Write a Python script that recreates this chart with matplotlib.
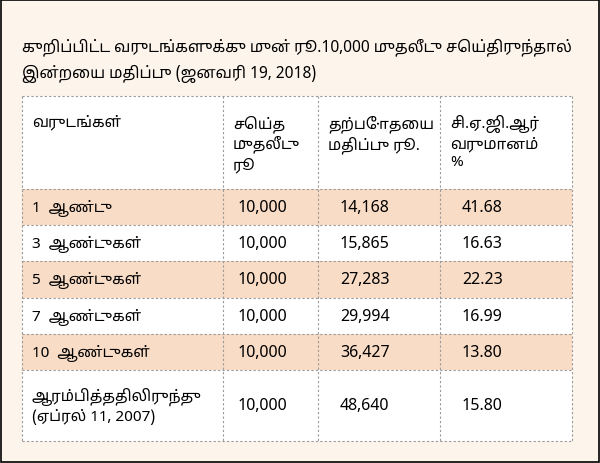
import matplotlib
matplotlib.use("Agg")
import matplotlib.pyplot as plt
from matplotlib.patches import Rectangle

plt.rcParams["font.family"] = ["Noto Sans Tamil", "Lohit Tamil", "Noto Sans", "DejaVu Sans"]

title_lines = ["குறிப்பிட்ட வருடங்களுக்கு முன் ரூ.10,000 முதலீடு செய்திருந்தால்",
               "இன்றைய மதிப்பு (ஜனவரி 19, 2018)"]
headers = ["வருடங்கள்", "செய்த\nமுதலீடு\nரூ", "தற்போதைய\nமதிப்பு ரூ.", "சி.ஏ.ஜி.ஆர்\nவருமானம்\n%"]
periods = ["1  ஆண்டு", "3  ஆண்டுகள்", "5  ஆண்டுகள்", "7  ஆண்டுகள்", "10  ஆண்டுகள்",
           "ஆரம்பித்ததிலிருந்து\n(ஏப்ரல் 11, 2007)"]
invested = ["10,000"] * 6
current = ["14,168", "15,865", "27,283", "29,994", "36,427", "48,640"]
cagr = ["41.68", "16.63", "22.23", "16.99", "13.80", "15.80"]

fig = plt.figure(figsize=(6, 4.64), dpi=100)
fig.patch.set_facecolor("#fdf5ec")
ax = fig.add_axes([0, 0, 1, 1])
ax.set_xlim(0, 600)
ax.set_ylim(464, 0)
ax.axis("off")
ax.add_patch(Rectangle((1, 1), 598, 462, fill=False, ec="black", lw=1.2))

ax.text(22, 47, title_lines[0], fontsize=11.2, fontweight="bold", va="center")
ax.text(22, 74, title_lines[1], fontsize=11.2, fontweight="bold", va="center")

col_x = [22, 223, 318, 440, 572]
row_y = [97, 190, 226, 262, 299, 335, 371, 442]
fills = ["white", "#f9dcc6", "white", "#f9dcc6", "white", "#f9dcc6", "white"]
for i in range(7):
    ax.add_patch(Rectangle((col_x[0], row_y[i]), col_x[-1] - col_x[0], row_y[i + 1] - row_y[i],
                           fc=fills[i], ec="none"))
for y in row_y:
    ax.plot([col_x[0], col_x[-1]], [y, y], color="#999999", lw=0.8, ls=(0, (2, 2)))
for x in col_x:
    ax.plot([x, x], [row_y[0], row_y[-1]], color="#999999", lw=0.8, ls=(0, (2, 2)))

for j, h in enumerate(headers):
    ax.text(col_x[j] + 10, row_y[0] + 18, h, fontsize=11, va="top", linespacing=1.3)

for i in range(6):
    yc = (row_y[i + 1] + row_y[i + 2]) / 2
    ax.text(col_x[0] + 10, yc, periods[i], fontsize=11, va="center", linespacing=1.3)
    ax.text(col_x[1] + 15, yc, invested[i], fontsize=11.5, va="center")
    ax.text(col_x[2] + 22, yc, current[i], fontsize=11.5, va="center")
    ax.text(col_x[3] + 22, yc, cagr[i], fontsize=11.5, va="center")

fig.savefig("out.png", dpi=100, facecolor=fig.get_facecolor())
